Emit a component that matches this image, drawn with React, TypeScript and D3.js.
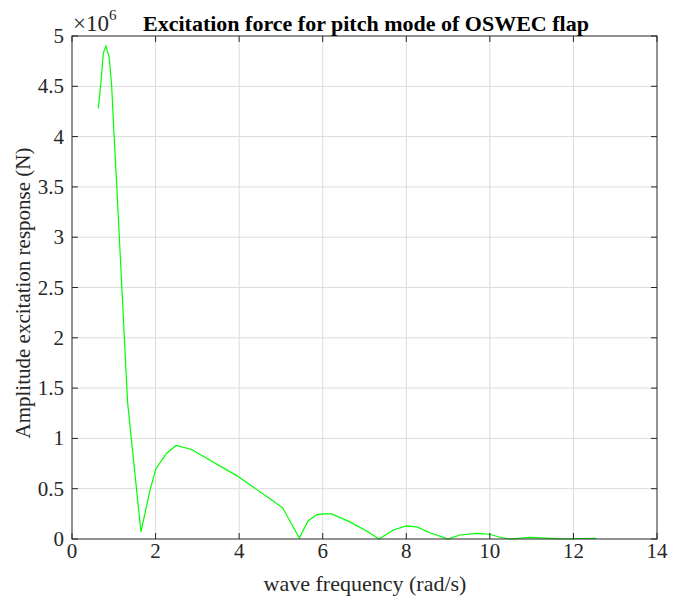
import React from "react";
import * as d3 from "d3";

const freq = [0.63, 0.69, 0.75, 0.81, 0.89, 0.95, 1.0, 1.07, 1.33, 1.65, 1.87, 2.01, 2.26, 2.49, 2.86, 3.94, 4.74, 5.04, 5.44, 5.65, 5.85, 6.01, 6.21, 6.65, 7.05, 7.35, 7.69, 8.0, 8.25, 8.52, 9.0, 9.28, 9.68, 10.0, 10.22, 10.48, 10.96, 11.44, 11.91, 12.15, 12.55];
const amp = [4.28, 4.53, 4.83, 4.9, 4.79, 4.5, 4.07, 3.52, 1.36, 0.07, 0.49, 0.70, 0.85, 0.93, 0.89, 0.63, 0.40, 0.31, 0.01, 0.18, 0.24, 0.25, 0.25, 0.17, 0.08, 0.0, 0.09, 0.13, 0.12, 0.07, 0.0, 0.04, 0.056, 0.047, 0.02, 0.0, 0.017, 0.007, 0.0, 0.005, 0.006];
const xTicks = [0, 2, 4, 6, 8, 10, 12, 14];
const yTicks = [0, 0.5, 1, 1.5, 2, 2.5, 3, 3.5, 4, 4.5, 5];

export default function App() {
  const W = 673, H = 600;
  const L = 72, R = 657, T = 36, B = 539;
  const x = d3.scaleLinear().domain([0, 14]).range([L, R]);
  const y = d3.scaleLinear().domain([0, 5]).range([B, T]);
  const line = d3.line<number>().x((d, i) => x(freq[i])).y((d) => y(d));
  const font = "'Liberation Serif', 'Times New Roman', serif";
  const tk = 6;
  return (
    <svg width={W} height={H} style={{ position: "absolute", left: 0, top: 0 }} fontFamily={font}>
      <rect x={0} y={0} width={W} height={H} fill="#fff" />
      {xTicks.slice(1, -1).map((t) => (
        <line key={"gx" + t} x1={x(t)} x2={x(t)} y1={T} y2={B} stroke="#dcdcdc" strokeWidth={1} />
      ))}
      {yTicks.slice(1, -1).map((t) => (
        <line key={"gy" + t} x1={L} x2={R} y1={y(t)} y2={y(t)} stroke="#dcdcdc" strokeWidth={1} />
      ))}
      <path d={line(amp) || ""} fill="none" stroke="#00ff00" strokeWidth={1.2} />
      <rect x={L} y={T} width={R - L} height={B - T} fill="none" stroke="#262626" strokeWidth={1} />
      {xTicks.map((t) => (
        <g key={"tx" + t}>
          <line x1={x(t)} x2={x(t)} y1={B} y2={B - tk} stroke="#262626" />
          <line x1={x(t)} x2={x(t)} y1={T} y2={T + tk} stroke="#262626" />
          <text x={x(t)} y={B + 19} textAnchor="middle" fontSize={21} fill="#262626">{t}</text>
        </g>
      ))}
      {yTicks.map((t) => (
        <g key={"ty" + t}>
          <line x1={L} x2={L + tk} y1={y(t)} y2={y(t)} stroke="#262626" />
          <line x1={R} x2={R - tk} y1={y(t)} y2={y(t)} stroke="#262626" />
          <text x={L - 8} y={y(t) + 7} textAnchor="end" fontSize={21} fill="#262626">{t}</text>
        </g>
      ))}
      <text x={73} y={31} fontSize={23} fill="#262626">×10<tspan dy={-11} fontSize={15}>6</tspan></text>
      <text x={366} y={31} textAnchor="middle" fontSize={22} fontWeight="bold" fill="#000">Excitation force for pitch mode of OSWEC flap</text>
      <text x={365} y={591} textAnchor="middle" fontSize={22} fill="#262626">wave frequency (rad/s)</text>
      <text transform={`translate(30,293) rotate(-90)`} textAnchor="middle" fontSize={21} fill="#262626">Amplitude excitation response (N)</text>
    </svg>
  );
}
